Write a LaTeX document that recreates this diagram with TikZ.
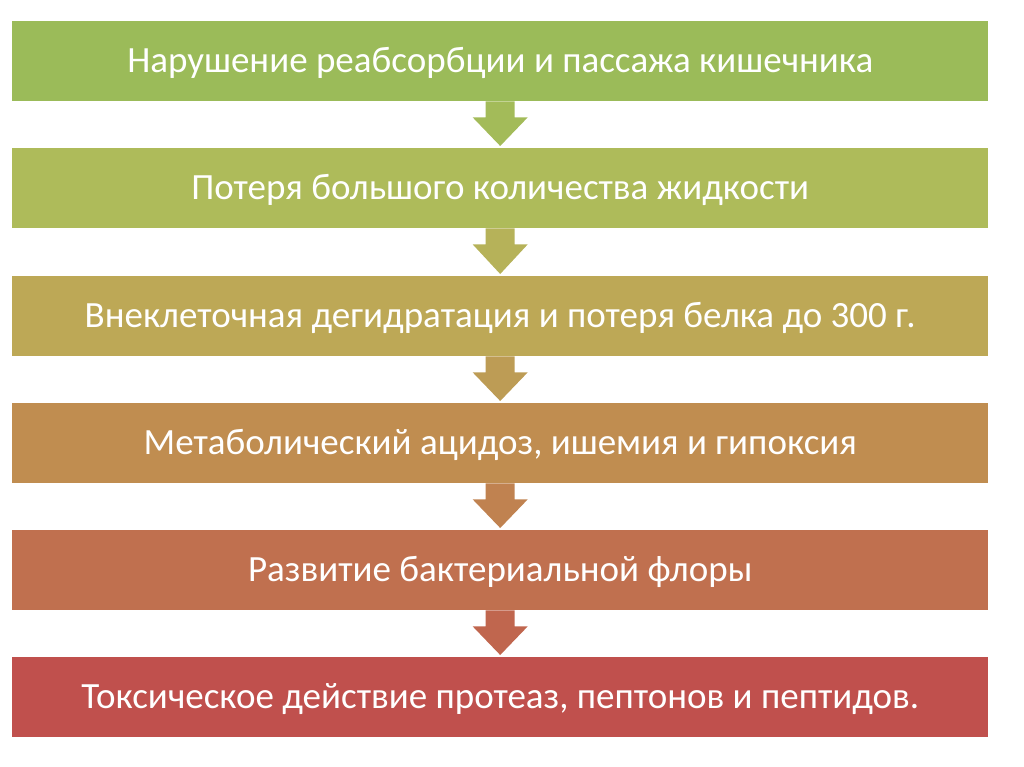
\documentclass[tikz,border=0pt]{standalone}
\usepackage{fontspec}
\setmainfont{Carlito}
\definecolor{c1}{HTML}{9BBB59}
\definecolor{c2}{HTML}{AEBB5A}
\definecolor{c3}{HTML}{BDA856}
\definecolor{c4}{HTML}{C08D50}
\definecolor{c5}{HTML}{C0704F}
\definecolor{c6}{HTML}{C0504D}
\definecolor{a1}{HTML}{A3BB59}
\definecolor{a2}{HTML}{B6B259}
\definecolor{a3}{HTML}{BD9C55}
\definecolor{a4}{HTML}{C08250}
\definecolor{a5}{HTML}{C0664E}
\tikzset{
  stage/.style={fill=#1, draw=none, minimum width=976pt, minimum height=80pt, inner sep=0pt,
    text=white, font=\fontsize{37}{40}\selectfont, anchor=north west,
    text height=26pt, text depth=4pt}
}
\usetikzlibrary{calc}
\newcommand{\downarr}[3]{%
  \path (#1.south) coordinate (t) (#2.north) coordinate (b);
  \fill[#3] ($(t)+(-14.5pt,0)$) -- ($(t)+(14.5pt,0)$) -- ($(t)+(14.5pt,-16pt)$) -- ($(t)+(27.5pt,-16pt)$)
     -- ($(b)+(0,2pt)$) -- ($(t)+(-27.5pt,-16pt)$) -- ($(t)+(-14.5pt,-16pt)$) -- cycle;
}
\begin{document}
\begin{tikzpicture}[x=1pt,y=-1pt]
\useasboundingbox (0,0) rectangle (1024,767);
\node[stage=c1] (s1) at (12,21) {Нарушение реабсорбции и пассажа кишечника};
\node[stage=c2] (s2) at (12,148) {Потеря большого количества жидкости};
\node[stage=c3] (s3) at (12,276) {Внеклеточная дегидратация и потеря белка до 300 г.};
\node[stage=c4] (s4) at (12,403) {Метаболический ацидоз, ишемия и гипоксия};
\node[stage=c5] (s5) at (12,530) {Развитие бактериальной флоры};
\node[stage=c6] (s6) at (12,657) {Токсическое действие протеаз, пептонов и пептидов.};
\downarr{s1}{s2}{a1}
\downarr{s2}{s3}{a2}
\downarr{s3}{s4}{a3}
\downarr{s4}{s5}{a4}
\downarr{s5}{s6}{a5}
\end{tikzpicture}
\end{document}
